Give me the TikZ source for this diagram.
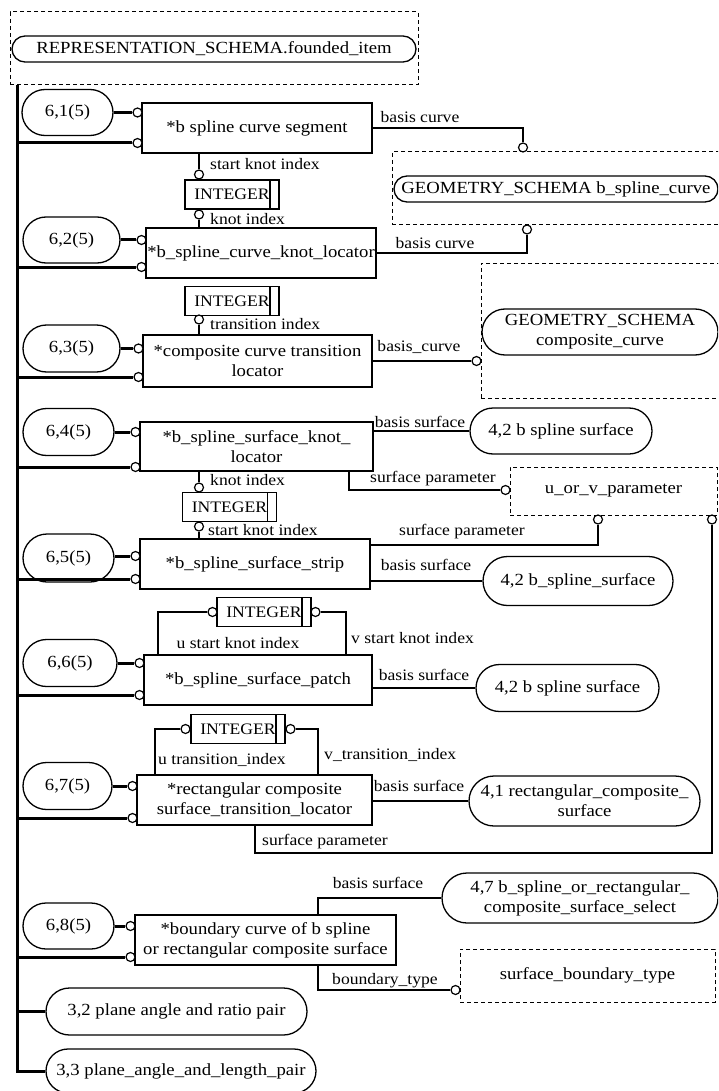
\documentclass[tikz,border=0pt]{standalone}
\usepackage{fontspec}
\setmainfont[FakeStretch=1.1]{Liberation Serif}
\usetikzlibrary{shapes.misc}
\begin{document}
\begin{tikzpicture}[x=1pt,y=-1pt,
 font=\fontsize{17}{20}\selectfont,
 wh/.style 2 args={minimum width=#1pt, minimum height=#2pt},
 ent/.style={draw, line width=1.3pt, rectangle, inner sep=0pt, align=center},
 ref/.style={draw, line width=1.3pt, rounded rectangle, inner sep=0pt, align=center},
 dbox/.style={draw, line width=1pt, dash pattern=on 4pt off 3pt, rectangle, inner sep=0pt, align=center},
 intbox/.style={draw, line width=1.3pt, rectangle, inner sep=0pt, font=\fontsize{16}{18}\selectfont,
   minimum width=94pt, minimum height=29pt,
   path picture={\draw[line width=1.2pt] ([xshift=-9pt]path picture bounding box.north east) -- ([xshift=-9pt]path picture bounding box.south east);}},
 circ/.style={draw, line width=1.2pt, fill=white, circle, inner sep=0pt, minimum size=9pt},
 rel/.style={line width=1.2pt},
 sub/.style={line width=3pt},
 lab/.style={font=\fontsize{16}{18}\selectfont, inner sep=1pt},
]
\clip (0,0) rectangle (718,1091);
\fill[white] (0,0) rectangle (718,1091);
\coordinate (m) at (17,0);

% top
\node[dbox, wh={408}{73}] (tb) at (214,48.5) {};
\node[ref, wh={404}{26}] (rs) at (214,49) {REPRESENTATION\_SCHEMA.founded\_item};

% row 1
\node[ref, wh={91}{46}] (r1) at (67.5,112.5) {6,1(5)};
\node[ent, wh={230}{50}] (e1) at (257,128) {*b spline curve segment};
\node[circ] (c1t) at (137.5,112.5) {};
\node[circ] (c1b) at (137.5,143) {};
\node[dbox, wh={348}{73}] (g1) at (566,188.5) {};
\node[ref, wh={324}{26}] (g1i) at (556,189) {GEOMETRY\_SCHEMA b\_spline\_curve};
\node[circ] (cg1) at (523,147.5) {};
\node[intbox] (i1) at (232,194.5) {INTEGER\hspace{8pt}};
\node[circ] (ci1t) at (199,174.5) {};
\node[circ] (ci1b) at (199,214.5) {};

% row 2
\node[ref, wh={97}{46}] (r2) at (71.5,240) {6,2(5)};
\node[ent, wh={230}{50}] (e2) at (261,253) {*b\_spline\_curve\_knot\_locator};
\node[circ] (c2t) at (141.5,240) {};
\node[circ] (c2b) at (141.5,267) {};
\node[circ] (cg2) at (527,229.5) {};
\node[intbox] (i2) at (232,301) {INTEGER\hspace{8pt}};
\node[circ] (ci2b) at (199,319.5) {};

% row 3
\node[ref, wh={97}{47}] (r3) at (71.5,348.5) {6,3(5)};
\node[ent, wh={229}{52}] (e3) at (257.5,361) {*composite curve transition\\locator};
\node[circ] (c3t) at (138.5,348.5) {};
\node[circ] (c3b) at (138.5,377) {};
\node[dbox, wh={259}{135}] (g2) at (610.5,330.5) {};
\node[ref, wh={236}{46}] (g2i) at (600,332) {GEOMETRY\_SCHEMA\\composite\_curve};
\node[circ] (cg3) at (476.5,361) {};

% row 4
\node[ref, wh={91}{47}] (r4) at (68.5,432) {6,4(5)};
\node[ent, wh={233}{49}] (e4) at (256.5,446.5) {*b\_spline\_surface\_knot\_\\locator};
\node[circ] (c4t) at (135.5,432) {};
\node[circ] (c4b) at (135.5,467) {};
\node[ref, wh={182}{46}] (s1) at (561,431) {4,2 b spline surface};
\node[dbox, wh={207}{48}] (u) at (613.5,491) {u\_or\_v\_parameter};
\node[circ] (cu1) at (505.5,490) {};
\node[intbox] (i3) at (229.5,507) {INTEGER\hspace{8pt}};
\node[circ] (ci3t) at (199,487.5) {};
\node[circ] (ci3b) at (199,526.5) {};

% row 5
\node[ref, wh={91}{48}] (r5) at (68.5,558) {6,5(5)};
\node[ent, wh={230}{50}] (e5) at (255,564) {*b\_spline\_surface\_strip};
\node[circ] (c5t) at (135.5,556) {};
\node[circ] (c5b) at (135.5,579) {};
\node[circ] (cu2) at (598,519.5) {};
\node[circ] (cu3) at (712,519.5) {};
\node[ref, wh={190}{49}] (s2) at (578,581) {4,2 b\_spline\_surface};

% row 6
\node[intbox] (i4) at (264,612) {INTEGER\hspace{8pt}};
\node[circ] (ci4l) at (212.5,612) {};
\node[circ] (ci4r) at (315.5,612) {};
\node[ref, wh={94}{47}] (r6) at (70,663) {6,6(5)};
\node[ent, wh={228}{50}] (e6) at (258,680) {*b\_spline\_surface\_patch};
\node[circ] (c6t) at (139.5,663) {};
\node[circ] (c6b) at (139.5,695) {};
\node[ref, wh={183}{47}] (s3) at (567.5,688) {4,2 b spline surface};

% row 7
\node[intbox] (i5) at (238,729) {INTEGER\hspace{8pt}};
\node[circ] (ci5l) at (185.5,729) {};
\node[circ] (ci5r) at (290.5,729) {};
\node[ref, wh={89}{47}] (r7) at (67.5,786) {6,7(5)};
\node[ent, wh={235}{50}] (e7) at (254.5,800) {*rectangular composite\\surface\_transition\_locator};
\node[circ] (c7t) at (132.5,786) {};
\node[circ] (c7b) at (132.5,818) {};
\node[ref, wh={231}{50}] (s4) at (584.5,801) {4,1 rectangular\_composite\_\\surface};

% row 8
\node[ref, wh={91}{46}] (r8) at (68.5,926) {6,8(5)};
\node[ent, wh={261}{50}] (e8) at (265.5,940) {*boundary curve of b spline\\or rectangular composite surface};
\node[circ] (c8t) at (130.5,926) {};
\node[circ] (c8b) at (130.5,957) {};
\node[ref, wh={276}{50}] (s5) at (580,898) {4,7 b\_spline\_or\_rectangular\_\\composite\_surface\_select};
\node[dbox, wh={255}{53}] (sbt) at (587.5,975.5) {surface\_boundary\_type};
\node[circ] (cs) at (455.5,990) {};

% bottom refs
\node[ref, wh={261}{47}] (r9) at (176.5,1011.5) {3,2 plane angle and ratio pair};
\node[ref, wh={270}{44}] (r10) at (181,1071) {3,3 plane\_angle\_and\_length\_pair};

% bend coordinates
\coordinate (k4) at (349,490);
\coordinate (k5) at (598,545);
\coordinate (k6l) at (158,612);
\coordinate (k6r) at (346,612);
\coordinate (k7l) at (155,729);
\coordinate (k7r) at (318,729);
\coordinate (k7a) at (712,853);
\coordinate (k7b) at (255,853);
\coordinate (k8a) at (318,898);
\coordinate (k8b) at (318,990);

% subtype tree
\draw[sub] (tb.south -| m) -- (r10.west -| m) -- (r10.west);
\draw[sub] (r9.west -| m) -- (r9.west);
\foreach \i in {1,...,8}{
  \draw[sub] (c\i b -| m) -- (c\i b.west);
  \draw[sub] (r\i.east |- c\i t) -- (c\i t.west);
}

% relations
\draw[rel] (e1.east) -| (cg1.north);
\draw[rel] (e1.south -| ci1t) -- (ci1t.north);
\draw[rel] (ci1b.south) -- (e2.north -| ci1b);
\draw[rel] (e2.east) -| (cg2.south);
\draw[rel] (ci2b.south) -- (e3.north -| ci2b);
\draw[rel] (e3.east) -- (cg3.west);
\draw[rel] (e4.east |- s1.west) -- (s1.west);
\draw[rel] (e4.south -| k4) -- (k4) -- (cu1.west);
\draw[rel] (e4.south -| ci3t) -- (ci3t.north);
\draw[rel] (ci3b.south) -- (e5.north -| ci3b);
\draw[rel] (e5.east |- k5) -- (k5) -- (cu2.south);
\draw[rel] (e5.east |- s2.west) -- (s2.west);
\draw[rel] (ci4l.west) -- (k6l) -- (e6.north -| k6l);
\draw[rel] (ci4r.east) -- (k6r) -- (e6.north -| k6r);
\draw[rel] (e6.east |- s3.west) -- (s3.west);
\draw[rel] (ci5l.west) -- (k7l) -- (e7.north -| k7l);
\draw[rel] (ci5r.east) -- (k7r) -- (e7.north -| k7r);
\draw[rel] (e7.east |- s4.west) -- (s4.west);
\draw[rel] (cu3.south) -- (k7a) -- (k7b) -- (e7.south -| k7b);
\draw[rel] (e8.north -| k8a) -- (k8a) -- (s5.west);
\draw[rel] (e8.south -| k8b) -- (k8b) -- (cs.west);

% labels
\node[lab] (l1) at (420,117) {basis curve};
\node[lab, anchor=west] (l2) at (209,164) {start knot index};
\node[lab, anchor=west] (l3) at (209,219) {knot index};
\node[lab] (l4) at (435,243) {basis curve};
\node[lab, anchor=west] (l5) at (209,324) {transition index};
\node[lab] (l6) at (419,347) {basis\_curve};
\node[lab] (l7) at (420,422) {basis surface};
\node[lab, anchor=west] (l8) at (209,480) {knot index};
\node[lab] (l9) at (433,479) {surface parameter};
\node[lab, anchor=west] (l10) at (207,530) {start knot index};
\node[lab] (l11) at (462,532) {surface parameter};
\node[lab] (l12) at (426,565) {basis surface};
\node[lab] (l13) at (238,643) {u start knot index};
\node[lab, anchor=west] (l14) at (350,638) {v start knot index};
\node[lab] (l15) at (424,675) {basis surface};
\node[lab] (l16) at (222,760) {u transition\_index};
\node[lab, anchor=west] (l17) at (323,755) {v\_transition\_index};
\node[lab] (l18) at (419,786) {basis surface};
\node[lab, anchor=west] (l19) at (261,842) {surface parameter};
\node[lab] (l20) at (378,883) {basis surface};
\node[lab] (l21) at (385,981) {boundary\_type};
\end{tikzpicture}
\end{document}
